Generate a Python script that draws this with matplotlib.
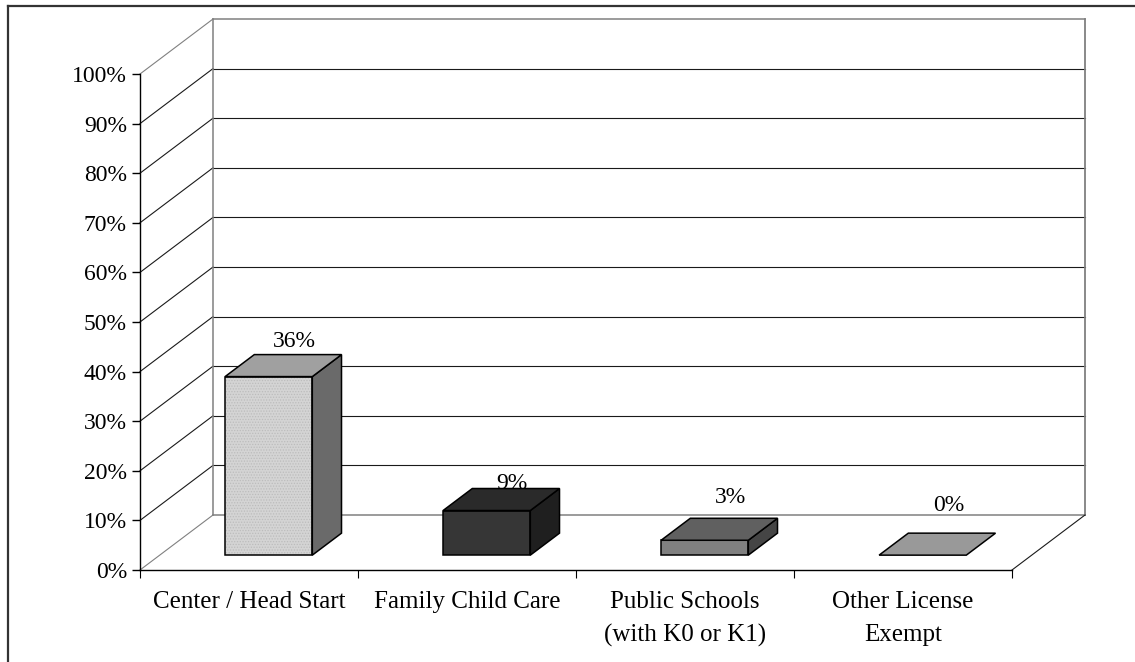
import numpy as np
import matplotlib.pyplot as plt
from matplotlib.patches import Polygon
from matplotlib.lines import Line2D

plt.rcParams['font.family'] = ['Liberation Serif', 'DejaVu Serif']
plt.rcParams['hatch.linewidth'] = 0.6

categories = ['Center / Head Start', 'Family Child Care',
              'Public Schools\n(with K0 or K1)', 'Other License\nExempt']
values = [36, 9, 3, 0]
value_labels = ['36%', '9%', '3%', '0%']
yticks = np.arange(0, 101, 10)

# face colours per bar: front, top, side
front_col = ['#d4d4d4', '#363636', '#808080', '#999999']
top_col = ['#a0a0a0', '#2a2a2a', '#606060', '#999999']
side_col = ['#6a6a6a', '#1f1f1f', '#454545', '#808080']
label_lift = [16, 8, 24, 30]   # px above the back edge of the bar top

# oblique depth of the plot box, in data units
DX = 73 / 218.
DY = 55 / 4.96
d0, d1 = 0.27, 0.67   # bar depth range (0 = front, 1 = back wall)
w0, w1 = 0.3, 0.7     # bar extent inside each category slot

W, H = 1135, 662
fig = plt.figure(figsize=(W / 100., H / 100.), dpi=100)
ax = fig.add_axes([140. / W, (H - 570.) / H, (1085. - 140.) / W, (570. - 19.) / H])
ax.set_xlim(0, 4 + DX)
ax.set_ylim(0, 100 + DY)
ax.patch.set_visible(False)

def P(x, y, d):
    return (x + d * DX, y + d * DY)

gray = '#808080'
# side wall and back wall gridlines
for v in yticks:
    c = gray if v in (0, 100) else '#1a1a1a'
    ax.plot([0, DX], [v, v + DY], color=c, lw=0.8, clip_on=False, zorder=1)
    ax.plot([DX, 4 + DX], [v + DY, v + DY], color=c, lw=0.8 if c != gray else 1.1,
            clip_on=False, zorder=1)
ax.plot([DX, DX], [DY, 100 + DY], color=gray, lw=1.1, clip_on=False, zorder=1)
ax.plot([4 + DX, 4 + DX], [DY, 100 + DY], color=gray, lw=1.3, clip_on=False, zorder=1)
ax.plot([4, 4 + DX], [0, DY], color='#1a1a1a', lw=0.8, clip_on=False, zorder=1)

# bars
for i, v in enumerate(values):
    xa, xb = i + w0, i + w1
    front = [P(xa, 0, d0), P(xb, 0, d0), P(xb, v, d0), P(xa, v, d0)]
    top = [P(xa, v, d0), P(xb, v, d0), P(xb, v, d1), P(xa, v, d1)]
    side = [P(xb, 0, d0), P(xb, 0, d1), P(xb, v, d1), P(xb, v, d0)]
    if v > 0:
        ax.add_patch(Polygon(front, closed=True, fc=front_col[i], ec='none',
                             clip_on=False, zorder=3))
        if i == 0:
            ax.add_patch(Polygon(front, closed=True, fill=False, ec='#bcbcbc', lw=0,
                                 hatch='......', clip_on=False, zorder=3))
        ax.add_patch(Polygon(front, closed=True, fill=False, ec='black', lw=1.1,
                             clip_on=False, zorder=4))
        ax.add_patch(Polygon(side, closed=True, fc=side_col[i], ec='black', lw=1.1,
                             clip_on=False, zorder=4))
    ax.add_patch(Polygon(top, closed=True, fc=top_col[i], ec='black', lw=1.1,
                         clip_on=False, zorder=4))
    lx, ly = P(i + 0.5, v, 0.62)
    ax.annotate(value_labels[i], (lx, ly), xytext=(0, label_lift[i] * 0.72),
                textcoords='offset points', ha='center', va='center',
                fontsize=17, zorder=5, annotation_clip=False)

# axes
for s in ('top', 'right'):
    ax.spines[s].set_visible(False)
ax.spines['left'].set_bounds(0, 100)
ax.spines['bottom'].set_bounds(0, 4)
ax.spines['left'].set_linewidth(1.0)
ax.spines['bottom'].set_linewidth(1.0)
ax.spines['left'].set_zorder(2)
ax.set_yticks(yticks)
ax.set_yticklabels([f'{v}%' for v in yticks], fontsize=17)
ax.tick_params(axis='y', length=5.8, width=1.0, pad=3.6, direction='out')
ax.set_xticks(np.arange(0, 5))
ax.set_xticklabels([])
ax.tick_params(axis='x', which='major', length=5.8, width=0.8, direction='out')
ax.set_xticks(np.arange(4) + 0.5, minor=True)
ax.set_xticklabels(categories, minor=True, fontsize=18, linespacing=1.65)
ax.tick_params(axis='x', which='minor', length=0, pad=15)

# outer frame (top and left edges)
fig.add_artist(Line2D([8. / W, 1.0], [1 - 6. / H, 1 - 6. / H], color='#333333', lw=1.6))
fig.add_artist(Line2D([8. / W, 8. / W], [1 - 6. / H, 0], color='#333333', lw=1.6))

fig.savefig('out.png', dpi=100)
